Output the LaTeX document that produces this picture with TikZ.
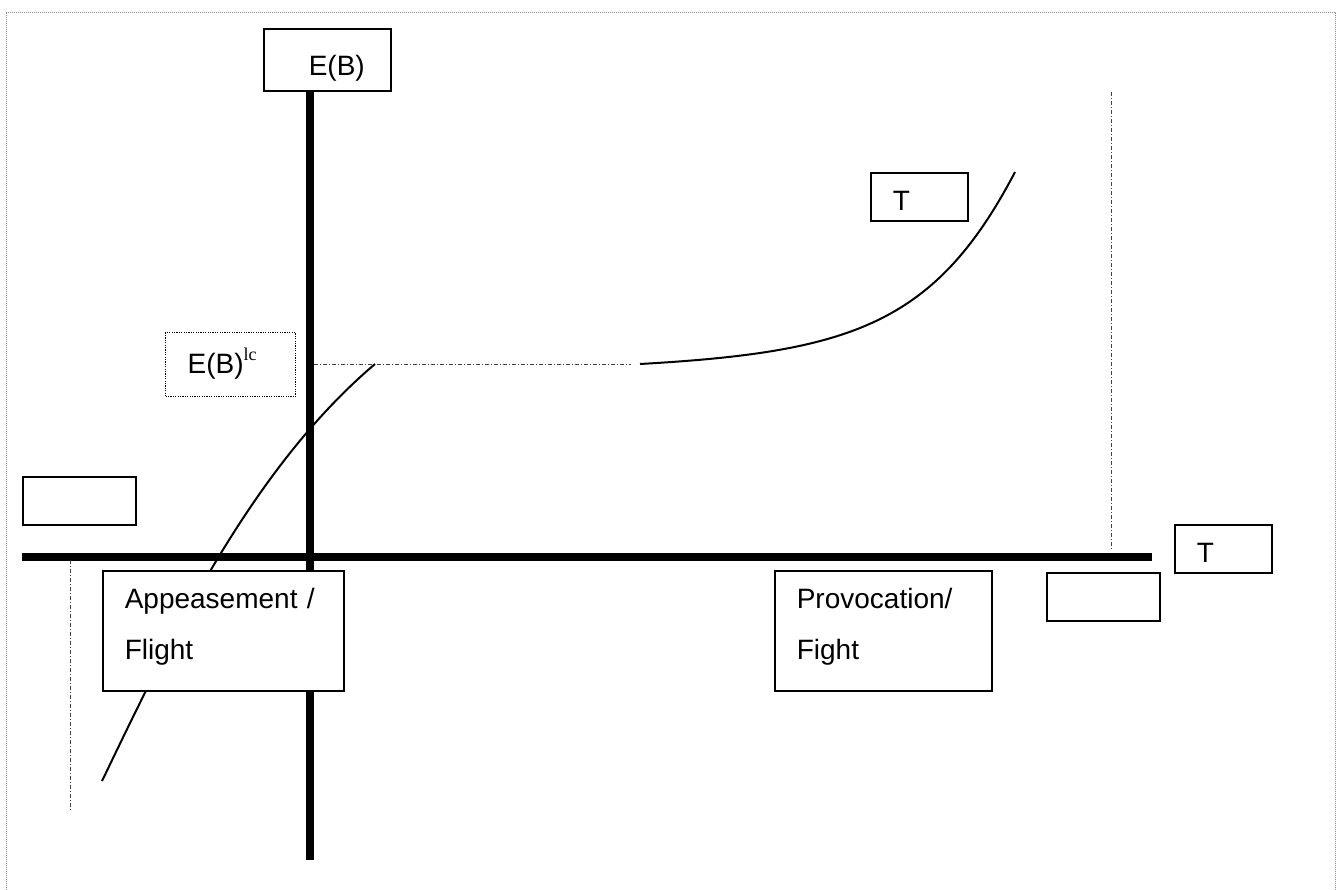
\documentclass[tikz,border=0pt]{standalone}
\usepackage{fontspec}
\setmainfont{Liberation Sans}
\newfontfamily\supfont{Liberation Serif}

\begin{document}
\begin{tikzpicture}[
    x=1pt, y=-1pt,
    font=\fontsize{28}{51}\selectfont,
    axisline/.style={line width=7.5pt},
    curveline/.style={line width=2pt},
    guideline/.style={line width=0.8pt, black!75,
        dash pattern=on 4pt off 2pt on 1pt off 2pt},
    frameline/.style={line width=1pt, black!45, dash pattern=on 1pt off 1pt},
    labelbox/.style={
        draw, fill=white, line width=1.6pt, anchor=north west,
        inner xsep=22pt, inner ysep=0pt, align=left
      },
    dottedbox/.style={labelbox, line width=1.2pt, dash pattern=on 1.2pt off 1.2pt},
    blankbox/.style={
        draw, fill=white, line width=1.6pt, anchor=north west,
        inner sep=0pt, minimum width=113pt, minimum height=48pt
      },
  ]
  \useasboundingbox (0,0) rectangle (1341,889);
  \draw[frameline] (6,900) -- (6,12) -- (1335,12) -- (1335,900);

  % axes
  \coordinate (yTop) at (310,90);
  \coordinate (yBot) at (310,860);
  \coordinate (xLeft) at (22,557);
  \coordinate (xRight) at (1152,557);
  \draw[axisline] (yTop) -- (yBot);
  \draw[axisline] (xLeft) -- (xRight);

  % guides
  \coordinate (lcAxis) at (314,364);
  \coordinate (gapEnd) at (631,364);
  \coordinate (rightTop) at (1111,92);
  \coordinate (rightBot) at (1111,550);
  \coordinate (leftTop) at (70,560);
  \coordinate (leftBot) at (70,812);
  \draw[guideline] (lcAxis) -- (gapEnd);
  \draw[guideline] (rightTop) -- (rightBot);
  \draw[guideline] (leftTop) -- (leftBot);

  % curves
  \coordinate (lowStart) at (102,781);
  \coordinate (lcPoint) at (375,364);
  \coordinate (highStart) at (640,364);
  \coordinate (highEnd) at (1015,172);
  \draw[curveline] (lowStart) .. controls (170,640) and (250,470) .. (lcPoint);
  \draw[curveline] (highStart) .. controls (850,352) and (935,325) .. (highEnd);

  % boxes
  \node[labelbox, text width=83pt, text height=47pt, text depth=15pt]
    (eb) at (263,28) {\hspace*{23pt}E(B)};
  \node[labelbox, text width=53pt, text height=38pt, text depth=10pt]
    (tTop) at (870,172) {T};
  \node[dottedbox, text width=86pt, text height=41pt, text depth=23pt]
    (eblc) at (165,332) {E(B)\raisebox{13pt}{\fontsize{18}{18}\supfont lc}};
  \node[blankbox] (blankLeft) at (22,476) {};
  \node[labelbox, text width=197pt, text height=38pt, text depth=82pt]
    (appease) at (102,570) {Appeasement /\\Flight};
  \node[labelbox, text width=173pt, text height=38pt, text depth=82pt]
    (provoke) at (774,570) {Provocation/\\Fight};
  \node[blankbox] (blankRight) at (1046,572) {};
  \node[labelbox, text width=53pt, text height=38pt, text depth=10pt]
    (tRight) at (1174,524) {T};
\end{tikzpicture}
\end{document}
